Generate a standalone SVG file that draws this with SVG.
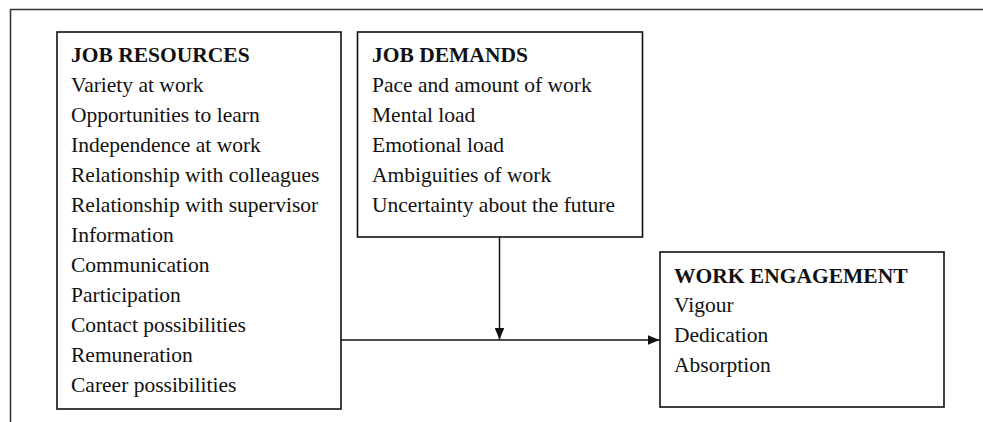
<svg xmlns="http://www.w3.org/2000/svg" width="983" height="422" viewBox="0 0 983 422">
  <style>
    .frame { fill: none; stroke: #333; stroke-width: 1.5; }
    .box { fill: #fff; stroke: #111; stroke-width: 1.6; }
    .link { fill: none; stroke: #111; stroke-width: 1.5; }
    text { font-family: "Liberation Serif", "Times New Roman", serif; font-size: 21.5px; fill: #111; }
    .head { font-weight: bold; }
  </style>
  <defs>
    <marker id="arrow" markerWidth="12" markerHeight="10" refX="12" refY="5" orient="auto" markerUnits="userSpaceOnUse">
      <path d="M0,0 L12,5 L0,10 Z" fill="#111"/>
    </marker>
  </defs>

  <!-- page frame (top and left rules) -->
  <path class="frame" d="M10.5,422 V9.5 H983"/>

  <g id="job-resources">
    <rect class="box" x="57" y="32" width="284" height="377"/>
    <text class="head" x="71" y="62">JOB RESOURCES</text>
    <text x="71" y="92">Variety at work</text>
    <text x="71" y="122">Opportunities to learn</text>
    <text x="71" y="152">Independence at work</text>
    <text x="71" y="182">Relationship with colleagues</text>
    <text x="71" y="212">Relationship with supervisor</text>
    <text x="71" y="242">Information</text>
    <text x="71" y="272">Communication</text>
    <text x="71" y="302">Participation</text>
    <text x="71" y="332">Contact possibilities</text>
    <text x="71" y="362">Remuneration</text>
    <text x="71" y="392">Career possibilities</text>
  </g>

  <g id="job-demands">
    <rect class="box" x="357.5" y="32" width="285" height="205"/>
    <text class="head" x="372" y="62">JOB DEMANDS</text>
    <text x="372" y="92">Pace and amount of work</text>
    <text x="372" y="122">Mental load</text>
    <text x="372" y="152">Emotional load</text>
    <text x="372" y="182">Ambiguities of work</text>
    <text x="372" y="212">Uncertainty about the future</text>
  </g>

  <g id="work-engagement">
    <rect class="box" x="660" y="252" width="284" height="155"/>
    <text class="head" x="674" y="283">WORK ENGAGEMENT</text>
    <text x="674" y="312">Vigour</text>
    <text x="674" y="342">Dedication</text>
    <text x="674" y="372">Absorption</text>
  </g>

  <g id="connectors">
    <line class="link" x1="341" y1="340" x2="659.5" y2="340" marker-end="url(#arrow)"/>
    <line class="link" x1="499.5" y1="237" x2="499.5" y2="339.5" marker-end="url(#arrow)"/>
  </g>
</svg>
